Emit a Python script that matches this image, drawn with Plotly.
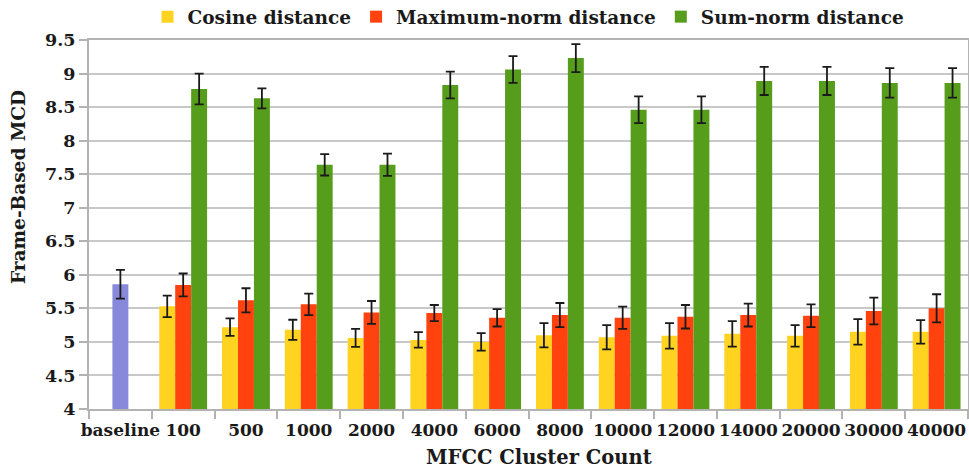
import plotly.graph_objects as go

categories = ["baseline", "100", "500", "1000", "2000", "4000", "6000", "8000",
              "10000", "12000", "14000", "20000", "30000", "40000"]
cluster_cats = categories[1:]

baseline_value = [5.86]
baseline_err = [0.215]

cosine = [5.53, 5.22, 5.18, 5.06, 5.03, 5.00, 5.10, 5.07, 5.09, 5.12, 5.09, 5.15, 5.15]
cosine_err = [0.16, 0.13, 0.15, 0.135, 0.115, 0.13, 0.18, 0.18, 0.19, 0.19, 0.16, 0.19, 0.175]

maxnorm = [5.85, 5.62, 5.56, 5.44, 5.43, 5.36, 5.40, 5.36, 5.375, 5.40, 5.39, 5.46, 5.50]
maxnorm_err = [0.17, 0.18, 0.16, 0.17, 0.12, 0.13, 0.18, 0.165, 0.175, 0.17, 0.17, 0.20, 0.21]

sumnorm = [8.77, 8.63, 7.64, 7.64, 8.83, 9.06, 9.23, 8.46, 8.46, 8.89, 8.89, 8.86, 8.86]
sumnorm_err = [0.23, 0.15, 0.16, 0.165, 0.20, 0.20, 0.21, 0.20, 0.20, 0.21, 0.21, 0.22, 0.22]

x_title = "MFCC Cluster Count"
y_title = "Frame-Based MCD"

FONT = "DejaVu Serif"
W = 0.254
err_style = dict(type="data", thickness=1.8, width=4.5, color="#1a1a1a")

fig = go.Figure()
fig.add_trace(go.Bar(
    x=categories[:1], y=baseline_value, name="baseline", showlegend=False,
    marker=dict(color="#8989DB", line=dict(width=0)), width=W, offset=-W / 2,
    error_y=dict(array=baseline_err, **err_style)))
fig.add_trace(go.Bar(
    x=cluster_cats, y=cosine, name="Cosine distance",
    marker=dict(color="#FFD320", line=dict(width=0)), width=W, offset=-1.5 * W,
    error_y=dict(array=cosine_err, **err_style)))
fig.add_trace(go.Bar(
    x=cluster_cats, y=maxnorm, name="Maximum-norm distance",
    marker=dict(color="#FF420E", line=dict(width=0)), width=W, offset=-0.5 * W,
    error_y=dict(array=maxnorm_err, **err_style)))
fig.add_trace(go.Bar(
    x=cluster_cats, y=sumnorm, name="Sum-norm distance",
    marker=dict(color="#579D1C", line=dict(width=0)), width=W, offset=0.5 * W,
    error_y=dict(array=sumnorm_err, **err_style)))

fig.update_layout(
    width=969, height=470,
    margin=dict(l=89, r=1, t=40, b=61, autoexpand=False),
    barmode="overlay",
    plot_bgcolor="white", paper_bgcolor="white",
    font=dict(family=FONT, size=17, color="#1a1a1a"),
    legend=dict(orientation="h", x=0.5, xanchor="center", y=1.062, yanchor="middle",
                font=dict(family=FONT, size=18.5, color="#1a1a1a", weight="bold"),
                bgcolor="rgba(0,0,0,0)", itemwidth=30, tracegroupgap=0),
    xaxis=dict(
        type="category", categoryorder="array", categoryarray=categories,
        range=[-0.5, len(categories) - 0.5],
        tickson="boundaries", ticks="outside", ticklen=8, tickwidth=2, tickcolor="#b3b3b3",
        tickangle=0, ticklabelstandoff=5,
        showline=True, linecolor="#b3b3b3", linewidth=2, mirror=True,
        showgrid=False,
        tickfont=dict(family=FONT, size=17, weight="bold"),
    ),
    yaxis=dict(
        range=[4, 9.5], dtick=0.5, tick0=4,
        ticks="outside", ticklen=8, tickwidth=2, tickcolor="#b3b3b3",
        showline=True, linecolor="#b3b3b3", linewidth=2, mirror=True,
        showgrid=True, gridcolor="#c8c8c8", gridwidth=1.5,
        zeroline=False,
        tickfont=dict(family=FONT, size=17.5, weight="bold"),
    ),
    annotations=[
        dict(text=x_title, xref="paper", yref="paper", x=(539 - 89) / 879,
             y=-(457 - 409) / 369, xanchor="center", yanchor="middle", showarrow=False,
             font=dict(family=FONT, size=19.5, weight="bold", color="#1a1a1a")),
        dict(text=y_title, xref="paper", yref="paper", x=-(89 - 19) / 879,
             y=(409 - 187) / 369, xanchor="center", yanchor="middle", showarrow=False,
             textangle=-90,
             font=dict(family=FONT, size=18.5, weight="bold", color="#1a1a1a")),
    ],
)

fig.write_html("out.html")
